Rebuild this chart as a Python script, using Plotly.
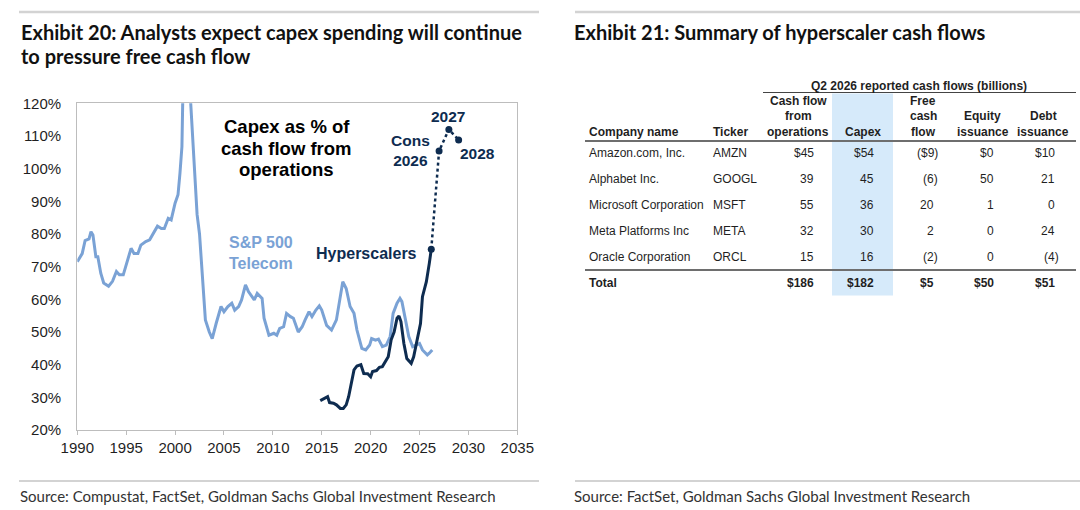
import plotly.graph_objects as go

# ---------------- Data: left chart ----------------
telecom_years = [1990.0, 1990.5, 1990.8, 1991.2, 1991.4, 1991.6, 1991.9, 1992.1, 1992.4, 1992.7,
                 1993.2, 1993.6, 1994.0, 1994.3, 1994.7, 1995.0, 1995.5, 1995.8, 1996.2, 1996.5,
                 1997.0, 1997.4, 1997.9, 1998.2, 1998.6, 1998.9, 1999.3, 1999.6, 2000.0, 2000.3,
                 2000.5, 2000.7, 2000.78, 2001.2, 2001.6, 2001.9, 2002.25, 2002.5, 2002.8, 2003.1,
                 2003.5, 2003.8, 2004.2, 2004.7, 2005.0, 2005.4, 2005.8, 2006.1, 2006.5, 2006.8,
                 2007.2, 2007.5, 2008.1, 2008.4, 2008.9, 2009.1, 2009.6, 2010.1, 2010.4, 2010.7,
                 2011.1, 2011.4, 2011.8, 2012.1, 2012.6, 2013.0, 2013.3, 2013.7, 2014.0, 2014.4,
                 2014.75, 2015.0, 2015.5, 2016.0, 2016.5, 2016.9, 2017.15, 2017.5, 2017.9, 2018.3,
                 2018.6, 2019.1, 2019.5, 2019.9, 2020.1, 2020.5, 2020.8, 2021.2, 2021.6, 2022.0,
                 2022.3, 2022.7, 2023.0, 2023.2, 2023.6, 2023.9, 2024.3, 2024.6, 2025.0, 2025.3,
                 2025.8, 2026.0, 2026.3]
telecom_vals = [71.5, 74.0, 78.0, 78.5, 80.7, 79.7, 73.0, 73.0, 68.0, 65.0,
                64.0, 65.5, 68.5, 67.5, 67.5, 70.5, 75.6, 74.0, 74.0, 76.6,
                77.7, 78.2, 80.7, 82.4, 81.7, 81.7, 84.8, 84.3, 89.4, 92.0,
                98.6, 106.7, 120.0, 140.0, 120.0, 103.7, 86.0, 80.0, 67.0, 53.7,
                50.0, 48.0, 52.6, 57.8, 56.2, 57.8, 58.8, 56.7, 57.8, 59.8,
                64.4, 62.4, 59.8, 61.8, 60.3, 54.2, 49.0, 49.6, 49.0, 51.1,
                51.6, 55.7, 54.7, 54.2, 50.0, 51.6, 53.7, 56.2, 54.7, 56.7,
                58.0, 56.7, 52.0, 50.6, 53.7, 61.8, 65.4, 63.3, 57.8, 55.7,
                50.6, 45.0, 44.5, 46.0, 48.0, 47.5, 47.8, 45.5, 46.0, 48.6,
                55.7, 58.8, 60.3, 59.3, 53.7, 48.6, 45.5, 46.0, 46.5, 44.5,
                43.0, 43.5, 44.5]

hyper_years = [2014.85, 2015.3, 2015.6, 2015.8, 2016.2, 2016.5, 2016.9, 2017.2, 2017.5, 2017.75,
               2018.0, 2018.3, 2018.6, 2019.0, 2019.3, 2019.7, 2020.0, 2020.2, 2020.6, 2020.9,
               2021.2, 2021.5, 2021.8, 2022.1, 2022.4, 2022.7, 2022.9, 2023.1, 2023.4, 2023.7,
               2024.15, 2024.4, 2024.8, 2025.1, 2025.3, 2025.7, 2026.0, 2026.2]
hyper_vals = [29.0, 29.7, 30.2, 28.4, 28.2, 27.7, 26.6, 26.6, 27.7, 30.2,
              34.3, 38.4, 39.6, 40.0, 37.3, 37.2, 36.3, 37.9, 38.2, 39.2,
              39.4, 40.9, 42.4, 47.6, 50.0, 54.2, 54.9, 53.2, 46.5, 41.9,
              40.4, 42.4, 48.6, 52.6, 60.8, 65.4, 71.0, 75.3]

proj_years = [2026.2, 2027.0, 2028.0, 2029.0]
proj_vals = [75.3, 105.4, 112.0, 108.8]

x_ticks = [1990, 1995, 2000, 2005, 2010, 2015, 2020, 2025, 2030, 2035]
y_ticks = [20, 30, 40, 50, 60, 70, 80, 90, 100, 110, 120]
y_tick_labels = ["20%", "30%", "40%", "50%", "60%", "70%", "80%", "90%", "100%", "110%", "120%"]

chart_note = ["Capex as % of", "cash flow from", "operations"]

# ---------------- Data: right table ----------------
span_header = "Q2 2026 reported cash flows (billions)"
col_headers = [["", "", "Company name"], ["", "", "Ticker"],
               ["Cash flow", "from", "operations"], ["", "", "Capex"],
               ["Free", "cash", "flow"], ["", "Equity", "issuance"], ["", "Debt", "issuance"]]
companies = ["Amazon.com, Inc.", "Alphabet Inc.", "Microsoft Corporation",
             "Meta Platforms Inc", "Oracle Corporation"]
tickers = ["AMZN", "GOOGL", "MSFT", "META", "ORCL"]
cfo = [45, 39, 55, 32, 15]
capex = [54, 45, 36, 30, 16]
fcf = [-9, -6, 20, 2, -2]
equity = [0, 50, 1, 0, 0]
debt = [10, 21, 0, 24, -4]
totals = [186, 182, 5, 50, 51]

titles = [["Exhibit 20: Analysts expect capex spending will continue", "to pressure free cash flow"],
          ["Exhibit 21: Summary of hyperscaler cash flows"]]
sources = ["Source: Compustat, FactSet, Goldman Sachs Global Investment Research",
           "Source: FactSet, Goldman Sachs Global Investment Research"]

# ---------------- Styles ----------------
W, H = 1080, 510
TELECOM = "#7AA2D5"
NAVY = "#0E2C50"
GRID_GRAY = "#BDBDBD"
TXT = "#1f1f1f"
ARIAL = "Liberation Sans, Arial, sans-serif"
LATO = "Lato, sans-serif"

fig = go.Figure()

fig.add_trace(go.Scatter(x=telecom_years, y=telecom_vals, mode="lines",
                         line=dict(color=TELECOM, width=3), hoverinfo="skip",
                         xaxis="x", yaxis="y"))
fig.add_trace(go.Scatter(x=proj_years, y=proj_vals, mode="lines+markers",
                         line=dict(color=NAVY, width=2.5, dash="dot"),
                         marker=dict(color=NAVY, size=7), hoverinfo="skip",
                         xaxis="x", yaxis="y"))
fig.add_trace(go.Scatter(x=hyper_years, y=hyper_vals, mode="lines",
                         line=dict(color=NAVY, width=3), hoverinfo="skip",
                         xaxis="x", yaxis="y"))

# invisible trace to realise the table/page axes
fig.add_trace(go.Scatter(x=[0, W], y=[0, H], mode="markers", marker=dict(opacity=0),
                         hoverinfo="skip", xaxis="x2", yaxis="y2"))

# ---------------- Chart annotations ----------------
ann = []
for ty, t in zip([112.84, 106.23, 99.8], chart_note):
    ann.append(dict(x=2011.4, y=ty, xref="x", yref="y", showarrow=False,
                    text="<b>" + t + "</b>",
                    font=dict(family=ARIAL, size=18.5, color="#000000")))
ann.append(dict(x=2008.8, y=74.3, xref="x", yref="y", showarrow=False,
                text="<b>S&P 500<br>Telecom</b>",
                font=dict(family=ARIAL, size=16, color=TELECOM), align="center"))
ann.append(dict(x=2019.57, y=74.1, xref="x", yref="y", showarrow=False,
                text="<b>Hyperscalers</b>",
                font=dict(family=ARIAL, size=16, color=NAVY), align="center"))
ann.append(dict(x=2024.03, y=105.6, xref="x", yref="y", showarrow=False,
                text="<b>Cons<br>2026</b>",
                font=dict(family=ARIAL, size=15.5, color=NAVY), align="center"))
ann.append(dict(x=2027.9, y=115.9, xref="x", yref="y", showarrow=False,
                text="<b>2027</b>", font=dict(family=ARIAL, size=15.5, color=NAVY)))
ann.append(dict(x=2030.93, y=104.7, xref="x", yref="y", showarrow=False,
                text="<b>2028</b>", font=dict(family=ARIAL, size=15.5, color=NAVY)))

# ---------------- Titles / sources ----------------
title_pos = [(19, [31.7, 55.5]), (572, [31.7])]
for (tx, tys), lines in zip(title_pos, titles):
    for ty, t in zip(tys, lines):
        ann.append(dict(x=tx, y=ty, xref="x2", yref="y2", showarrow=False, xanchor="left",
                        yanchor="middle", text="<b>" + t + "</b>",
                        font=dict(family=LATO, size=20, color="#111111")))
for sx, s in zip([18, 572], sources):
    ann.append(dict(x=sx, y=496, xref="x2", yref="y2", showarrow=False, xanchor="left",
                    yanchor="middle", text=s, font=dict(family=LATO, size=15, color="#333333")))

# ---------------- Table ----------------
TF = 12
hdr_line_y = [100.7, 116.2, 131.7]
row_y0, row_step = 153.3, 25.85
total_y = 282.7
hdr_x = [587, 711, 798, 862.7, 923, 982.7, 1043]
hdr_anchor = ["left", "left", "center", "center", "center", "center", "center"]
num_right = [816, 876, 936, 996, 1057.3]
PAREN = 4

ann.append(dict(x=919, y=85.5, xref="x2", yref="y2", showarrow=False, xanchor="center",
                yanchor="middle", text="<b>" + span_header + "</b>",
                font=dict(family=ARIAL, size=TF, color=TXT)))
for ci, lines in enumerate(col_headers):
    for li, t in enumerate(lines):
        if t:
            ann.append(dict(x=hdr_x[ci], y=hdr_line_y[li], xref="x2", yref="y2", showarrow=False,
                            xanchor=hdr_anchor[ci], yanchor="middle", text="<b>" + t + "</b>",
                            font=dict(family=ARIAL, size=TF, color=TXT)))


def fmt(v, dollar):
    s = ("$" if dollar else "") + str(abs(v))
    return "(" + s + ")" if v < 0 else s


num_cols = [cfo, capex, fcf, equity, debt]
for ri in range(len(companies)):
    y = row_y0 + ri * row_step
    ann.append(dict(x=hdr_x[0], y=y, xref="x2", yref="y2", showarrow=False, xanchor="left",
                    yanchor="middle", text=companies[ri], font=dict(family=ARIAL, size=TF, color=TXT)))
    ann.append(dict(x=hdr_x[1], y=y, xref="x2", yref="y2", showarrow=False, xanchor="left",
                    yanchor="middle", text=tickers[ri], font=dict(family=ARIAL, size=TF, color=TXT)))
    for ci, col in enumerate(num_cols):
        v = col[ri]
        ann.append(dict(x=num_right[ci] + (PAREN if v < 0 else 0), y=y, xref="x2", yref="y2",
                        showarrow=False, xanchor="right", yanchor="middle",
                        text=fmt(v, ri == 0), font=dict(family=ARIAL, size=TF, color=TXT)))

ann.append(dict(x=hdr_x[0], y=total_y, xref="x2", yref="y2", showarrow=False, xanchor="left",
                yanchor="middle", text="<b>Total</b>", font=dict(family=ARIAL, size=TF, color=TXT)))
for ci, v in enumerate(totals):
    ann.append(dict(x=num_right[ci] + (PAREN if v < 0 else 0), y=total_y, xref="x2", yref="y2",
                    showarrow=False, xanchor="right", yanchor="middle",
                    text="<b>" + fmt(v, True) + "</b>", font=dict(family=ARIAL, size=TF, color=TXT)))

# ---------------- Shapes ----------------
shapes = [
    dict(type="rect", xref="x2", yref="y2", x0=832, x1=893, y0=93.5, y1=295.5,
         fillcolor="#D6EAFA", line=dict(width=0), layer="below"),
    dict(type="line", xref="x2", yref="y2", x0=19, x1=539, y0=12, y1=12,
         line=dict(color="#D3D3D3", width=2.5)),
    dict(type="line", xref="x2", yref="y2", x0=575, x1=1080, y0=12, y1=12,
         line=dict(color="#D3D3D3", width=2.5)),
    dict(type="line", xref="x2", yref="y2", x0=19, x1=539, y0=481, y1=481,
         line=dict(color="#D3D3D3", width=2)),
    dict(type="line", xref="x2", yref="y2", x0=575, x1=1080, y0=481, y1=481,
         line=dict(color="#D3D3D3", width=2)),
    dict(type="line", xref="x2", yref="y2", x0=763, x1=1076, y0=92.5, y1=92.5,
         line=dict(color="#444444", width=1.2)),
    dict(type="line", xref="x2", yref="y2", x0=585, x1=1076, y0=141, y1=141,
         line=dict(color="#6E6E6E", width=2)),
    dict(type="line", xref="x2", yref="y2", x0=585, x1=1076, y0=270, y1=270,
         line=dict(color="#6E6E6E", width=2)),
]

x0d, x1d = 77.3 / W, 517.3 / W
y0d, y1d = 1 - 430 / H, 1 - 103.3 / H

fig.update_layout(
    width=W, height=H, margin=dict(l=0, r=0, t=0, b=0, pad=0, autoexpand=False),
    paper_bgcolor="white", plot_bgcolor="rgba(0,0,0,0)", showlegend=False,
    font=dict(family=ARIAL, color=TXT),
    annotations=ann, shapes=shapes,
    xaxis=dict(domain=[x0d, x1d], range=[1990, 2035], tickmode="array", tickvals=x_ticks,
               showgrid=False, zeroline=False, showline=True, mirror=True,
               linecolor=GRID_GRAY, linewidth=1.3, ticks="outside", ticklen=4,
               tickcolor=GRID_GRAY, tickfont=dict(family=ARIAL, size=15, color=TXT),
               anchor="y", fixedrange=True, automargin=False),
    yaxis=dict(domain=[y0d, y1d], range=[20, 120], tickmode="array", tickvals=y_ticks,
               ticktext=y_tick_labels,
               showgrid=False, zeroline=False, showline=True, mirror=True,
               linecolor=GRID_GRAY, linewidth=1.3, ticks="outside", ticklen=12,
               tickcolor="rgba(0,0,0,0)",
               tickfont=dict(family=ARIAL, size=15, color=TXT), anchor="x", fixedrange=True,
               automargin=False),
    xaxis2=dict(domain=[0, 1], range=[0, W], visible=False, anchor="y2", fixedrange=True,
                automargin=False),
    yaxis2=dict(domain=[0, 1], range=[H, 0], visible=False, anchor="x2", fixedrange=True,
                automargin=False),
)

fig.write_html("out.html", config={"displayModeBar": False},
               post_script="document.body.style.margin='0';")
